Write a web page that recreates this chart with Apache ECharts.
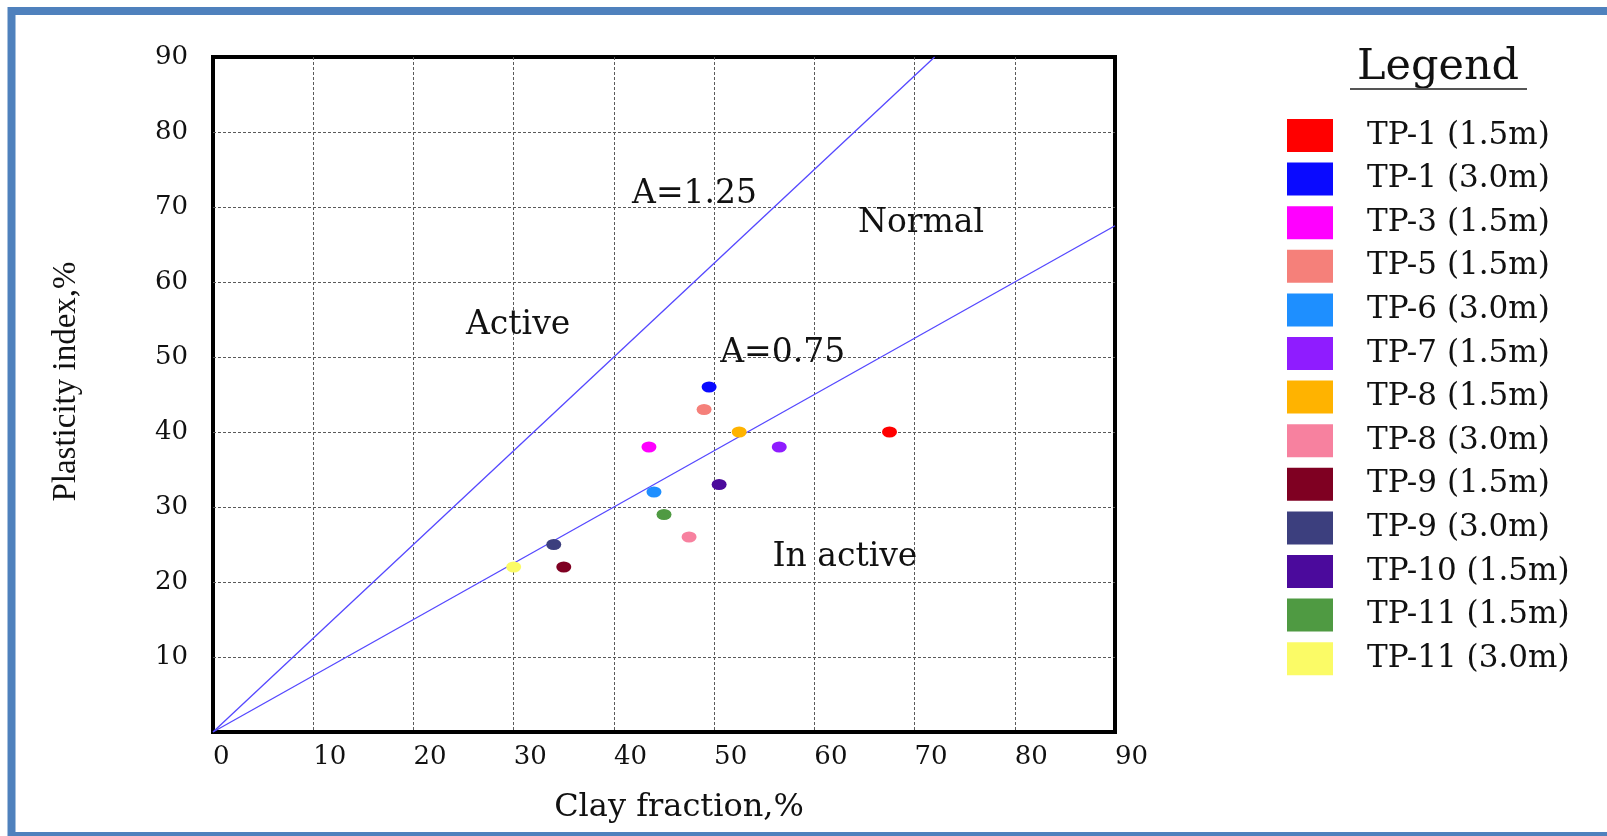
<!DOCTYPE html>
<html>
<head>
<meta charset="utf-8">
<title>Activity chart</title>
<script src="https://cdn.jsdelivr.net/npm/echarts@6/dist/echarts.min.js"></script>
<style>
  html, body { margin: 0; padding: 0; background: #ffffff; }
  #chart { width: 1607px; height: 836px; }
</style>
</head>
<body>
<div id="chart"></div>
<script>
// Samples: clay fraction (%) and plasticity index (%)
const sampleNames = [
  'TP-1 (1.5m)', 'TP-1 (3.0m)', 'TP-3 (1.5m)', 'TP-5 (1.5m)', 'TP-6 (3.0m)',
  'TP-7 (1.5m)', 'TP-8 (1.5m)', 'TP-8 (3.0m)', 'TP-9 (1.5m)', 'TP-9 (3.0m)',
  'TP-10 (1.5m)', 'TP-11 (1.5m)', 'TP-11 (3.0m)'
];
const clayFraction    = [67.5, 49.5, 43.5, 49.0, 44.0, 56.5, 52.5, 47.5, 35.0, 34.0, 50.5, 45.0, 30.0];
const plasticityIndex = [40,   46,   38,   43,   32,   38,   40,   26,   22,   25,   33,   29,   22];
const sampleColors = [
  '#ff0000', '#0a0aff', '#ff00ff', '#f5807a', '#1e8fff', '#8f1cff', '#ffb300',
  '#f7819f', '#7f0022', '#3c3f7e', '#4b0a9c', '#4f9a42', '#fbfb66'
];

// Activity boundary lines (PI = A x clay fraction)
const lineA125 = [[0, 0], [72, 90]];
const lineA075 = [[0, 0], [90, 67.5]];

// Zone notes placed in data coordinates
const noteTexts = ['A=1.25', 'Normal', 'Active', 'A=0.75', 'In active'];
const noteX = [48.1, 70.7, 30.5, 56.9, 63.1];
const noteY = [71.6, 67.8, 54.2, 50.4, 23.2];

// Axis ticks
const axisMin = 0, axisMax = 90, axisStep = 10;

const serif = 'DejaVu Serif';
const textColor = '#111111';

const chart = echarts.init(document.getElementById('chart'), null, { renderer: 'canvas' });

const sampleSeries = sampleNames.map((name, i) => ({
  name: name,
  type: 'scatter',
  z: 4,
  symbol: 'circle',
  symbolSize: [15, 11],
  itemStyle: { color: sampleColors[i], opacity: 1 },
  data: [[clayFraction[i], plasticityIndex[i]]]
}));

const option = {
  backgroundColor: '#ffffff',
  animation: false,
  grid: {
    left: 213, top: 57, width: 902, height: 675,
    show: true, borderColor: '#000000', borderWidth: 4, backgroundColor: 'transparent'
  },
  xAxis: {
    type: 'value', min: axisMin, max: axisMax, interval: axisStep,
    name: 'Clay fraction,%',
    nameLocation: 'middle', nameGap: 60,
    nameTextStyle: { fontFamily: serif, fontSize: 32, color: textColor, padding: [0, 0, 0, 30] },
    axisLine: { show: false },
    axisTick: { show: false },
    axisLabel: { fontFamily: serif, fontSize: 26, color: textColor, align: 'left', margin: 12 },
    splitLine: {
      show: true, showMinLine: false, showMaxLine: false,
      lineStyle: { color: '#5a5a5a', width: 1, type: [3, 2] }
    }
  },
  yAxis: {
    type: 'value', min: axisMin, max: axisMax, interval: axisStep,
    name: 'Plasticity index,%',
    nameLocation: 'middle', nameGap: 130,
    nameTextStyle: { fontFamily: 'Liberation Serif', fontSize: 33, color: textColor, padding: [0, 0, 0, 26] },
    axisLine: { show: false },
    axisTick: { show: false },
    axisLabel: {
      fontFamily: serif, fontSize: 26, color: textColor, margin: 25,
      formatter: v => (v === 0 ? '' : String(v))
    },
    splitLine: {
      show: true, showMinLine: false, showMaxLine: false,
      lineStyle: { color: '#5a5a5a', width: 1, type: [3, 2] }
    }
  },
  legend: {
    data: sampleNames,
    orient: 'vertical',
    left: 1282, top: 114,
    icon: 'rect',
    itemWidth: 46, itemHeight: 33, itemGap: 10.6,
    selectedMode: false,
    textStyle: {
      fontFamily: serif, fontSize: 31, color: textColor,
      lineHeight: 33, padding: [0, 0, 0, 29]
    }
  },
  graphic: [
    {
      type: 'rect', z: -10, silent: true,
      shape: { x: 11.5, y: 11, width: 1620, height: 825 },
      style: { fill: null, stroke: '#4f81bd', lineWidth: 8 }
    },
    {
      type: 'text', silent: true,
      style: {
        text: 'Legend', x: 1438, y: 68,
        font: '43px "DejaVu Serif"', fill: textColor,
        textAlign: 'center', textVerticalAlign: 'middle'
      }
    },
    {
      type: 'line', silent: true,
      shape: { x1: 1350, y1: 89, x2: 1527, y2: 89 },
      style: { stroke: '#555555', lineWidth: 2 }
    }
  ],
  series: [
    {
      name: 'A=1.25', type: 'line', z: 3, silent: true,
      symbol: 'none', data: lineA125,
      lineStyle: { color: '#5548ff', width: 1.3 }
    },
    {
      name: 'A=0.75', type: 'line', z: 3, silent: true,
      symbol: 'none', data: lineA075,
      lineStyle: { color: '#5548ff', width: 1.3 }
    },
    {
      name: 'zones', type: 'scatter', z: 5, silent: true,
      symbolSize: 1, itemStyle: { color: '#ffffff', opacity: 0 },
      label: {
        show: true, position: [0, 0], align: 'center', verticalAlign: 'middle',
        formatter: p => p.name, opacity: 1,
        fontFamily: serif, fontSize: 33, color: textColor
      },
      data: noteTexts.map((t, i) => ({ name: t, value: [noteX[i], noteY[i]] }))
    }
  ].concat(sampleSeries)
};

chart.setOption(option);
</script>
</body>
</html>
